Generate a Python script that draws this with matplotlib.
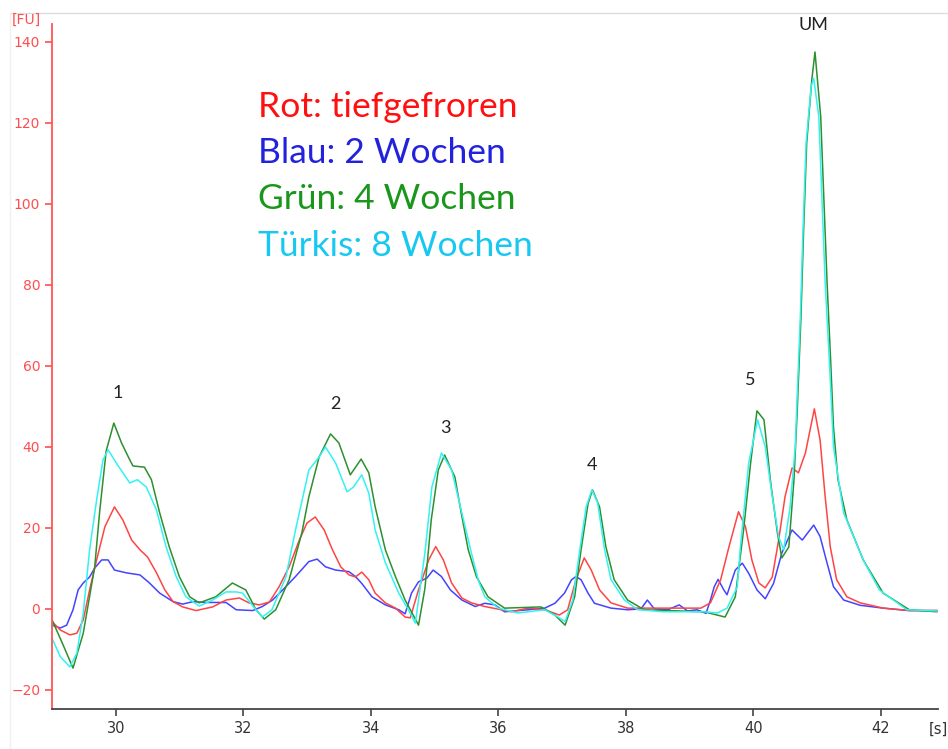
import matplotlib
matplotlib.use("Agg")
import matplotlib.pyplot as plt
from matplotlib.lines import Line2D

# migration time [s] / fluorescence [FU]
green_t = [29.0, 29.15, 29.33, 29.49, 29.67, 29.75, 29.85, 29.97, 30.09, 30.22, 30.27, 30.45, 30.56,
           30.69, 30.84, 31.0, 31.16, 31.31, 31.57, 31.83, 32.04, 32.2, 32.33, 32.51, 32.72, 32.92,
           33.03, 33.19, 33.37, 33.5, 33.68, 33.85, 33.97, 34.07, 34.23, 34.39, 34.54, 34.75, 34.85,
           34.95, 35.06, 35.16, 35.32, 35.42, 35.53, 35.66, 35.84, 36.1, 36.67, 36.89, 37.05, 37.2,
           37.3, 37.41, 37.48, 37.59, 37.69, 37.82, 38.03, 38.29, 39.23, 39.56, 39.72, 39.85, 39.96,
           40.06, 40.17, 40.27, 40.38, 40.45, 40.56, 40.64, 40.69, 40.75, 40.79, 40.84, 40.92, 40.97,
           41.06, 41.11, 41.16, 41.22, 41.26, 41.33, 41.47, 41.73, 42.04, 42.45, 42.88]
green_fu = [-2.7, -8, -14.6, -6, 10.4, 24.4, 39, 45.9, 41, 36.8, 35.3, 35, 31.9,
            23.7, 15.3, 7.9, 3, 1.5, 3, 6.4, 4.7, -0.2, -2.5, -0.2, 7.2, 18.8,
            27.7, 37.5, 43.2, 41, 33.1, 37, 33.6, 25.2, 14.6, 7.9, 2.2, -4, 5,
            22, 34.3, 38, 32.6, 23.7, 14.6, 7.9, 3, 0.2, 0.5, -1.5, -4, 3,
            14.6, 26, 29.4, 25.2, 15.3, 7.2, 2.2, -0.2, -0.7, -2, 3, 19.5, 36,
            48.9, 46.7, 31.8, 18.8, 12.6, 15.3, 31.8, 48.4, 72, 92.8, 115, 130.6, 137.5,
            121.5, 101, 80.5, 59.8, 45, 32, 22, 12, 3.9, -0.2, -0.7]

cyan_t = [29.0, 29.13, 29.28, 29.39, 29.49, 29.59, 29.7, 29.8, 29.88, 30.01, 30.22, 30.34, 30.48,
          30.64, 30.79, 30.95, 31.1, 31.31, 31.52, 31.73, 31.89, 31.99, 32.2, 32.3, 32.45, 32.67,
          32.82, 33.03, 33.19, 33.29, 33.45, 33.63, 33.73, 33.86, 33.97, 34.07, 34.23, 34.44, 34.62,
          34.7, 34.85, 34.96, 35.11, 35.27, 35.43, 35.58, 35.69, 35.79, 36.0, 36.31, 36.73, 36.94,
          37.05, 37.17, 37.28, 37.38, 37.47, 37.56, 37.67, 37.77, 37.98, 38.19, 38.6, 39.23, 39.44,
          39.59, 39.75, 39.8, 39.93, 40.07, 40.19, 40.3, 40.4, 40.48, 40.58, 40.66, 40.69, 40.74,
          40.78, 40.83, 40.91, 40.95, 41.03, 41.08, 41.13, 41.2, 41.26, 41.42, 41.73, 41.98, 42.41,
          42.88]
cyan_fu = [-7.2, -11.8, -14.3, -10.9, -1, 14.6, 26.9, 36.8, 39.3, 36, 31.1, 31.9, 30.1,
           24.4, 15.3, 7.9, 3, 0.7, 2.2, 4.2, 4.2, 3.9, -0.2, -2, -0.2, 7.9,
           19.5, 34.3, 37.5, 40, 36, 28.9, 30.1, 33.1, 28.6, 19.5, 11.4, 3.9, -1,
           -3.5, 13.8, 30.1, 38.5, 34.3, 23.7, 13.8, 7, 3, 0.2, -1, -0.2, -2,
           -3.1, 2.2, 14.6, 25.2, 29.4, 26.2, 14.6, 7.2, 2.2, -0.2, -0.7, -0.7, -1,
           0.2, 5.4, 15.3, 36, 46.7, 40, 27.7, 17.8, 14.6, 25.2, 40, 52.4, 72,
           92.8, 115, 129, 131, 121.5, 101, 80.5, 59.8, 40, 23.7, 12, 4.7, -0.2,
           -0.5]

red_t = [29.0, 29.13, 29.28, 29.39, 29.49, 29.59, 29.7, 29.83, 29.98, 30.11, 30.25, 30.38, 30.5,
         30.64, 30.77, 30.9, 31.05, 31.26, 31.52, 31.73, 31.94, 32.09, 32.25, 32.41, 32.56, 32.72,
         32.88, 33.0, 33.13, 33.27, 33.4, 33.53, 33.66, 33.76, 33.86, 33.97, 34.07, 34.23, 34.39,
         34.54, 34.62, 34.75, 34.91, 35.02, 35.14, 35.27, 35.43, 35.58, 35.79, 36.21, 36.47, 36.73,
         36.96, 37.09, 37.22, 37.35, 37.46, 37.59, 37.77, 38.03, 39.18, 39.33, 39.49, 39.62, 39.77,
         39.88, 39.98, 40.09, 40.19, 40.3, 40.4, 40.5, 40.61, 40.71, 40.82, 40.96, 41.05, 41.13,
         41.21, 41.31, 41.47, 41.68, 42.04, 42.45, 42.88]
red_fu = [-3.1, -5.2, -6.4, -6, -2.7, 4.7, 12.1, 20.3, 25.2, 22, 17, 14.6, 12.8,
          8.9, 4.7, 1.8, 0.5, -0.4, 0.5, 2.2, 2.7, 1.5, 1, 1.7, 5.4, 10.4,
          17, 21.2, 22.7, 19.5, 14.6, 10.4, 8.4, 7.9, 9.1, 7.2, 3.9, 1.5, 0.2,
          -2, -2.2, 4.7, 12.1, 15.4, 12.1, 6.4, 2.7, 1.5, 0.6, -0.7, 0.2, -0.2,
          -1.5, -0.2, 7.2, 12.6, 9.6, 4.7, 1.5, 0.2, 0.2, 1.5, 7.2, 15.3, 24,
          20.3, 12.1, 6.4, 5.2, 7.9, 17, 27.7, 34.8, 33.6, 38.5, 49.4, 41.7, 27.7,
          15.3, 7.2, 3, 1.5, 0.2, -0.4, -0.4]

blue_t = [29.0, 29.13, 29.23, 29.33, 29.41, 29.49, 29.59, 29.67, 29.78, 29.88, 29.98, 30.17, 30.38,
          30.53, 30.69, 30.9, 31.05, 31.21, 31.42, 31.73, 31.89, 32.15, 32.3, 32.46, 32.62, 32.82,
          33.03, 33.16, 33.29, 33.45, 33.66, 33.76, 33.86, 34.02, 34.23, 34.44, 34.54, 34.64, 34.75,
          34.88, 34.98, 35.11, 35.25, 35.43, 35.64, 35.79, 35.95, 36.1, 36.47, 36.73, 36.89, 37.04,
          37.15, 37.22, 37.3, 37.41, 37.51, 37.77, 38.03, 38.24, 38.34, 38.45, 38.66, 38.84, 38.97,
          39.12, 39.26, 39.33, 39.39, 39.45, 39.54, 39.59, 39.72, 39.83, 39.93, 40.06, 40.19, 40.32,
          40.45, 40.61, 40.77, 40.95, 41.05, 41.16, 41.26, 41.42, 41.68, 42.04, 42.45, 42.88]
blue_fu = [-4, -4.7, -4, -0.2, 4.7, 6.4, 7.9, 10.1, 12.1, 12.1, 9.6, 8.9, 8.4,
           6.4, 3.9, 1.8, 1.2, 1.8, 1.6, 1.6, -0.2, -0.4, 0.6, 2.2, 4.7, 8,
           11.7, 12.3, 10.4, 9.6, 9.2, 8, 6.3, 3, 1, -0.2, -1.2, 3.9, 6.7,
           7.6, 9.6, 8, 4.7, 2.2, 0.6, 1.4, 1, -0.7, -0.2, 0.2, 1.4, 3.9,
           7.2, 8, 7.2, 3.9, 1.4, 0.2, -0.2, 0, 2.2, 0, -0.2, 1, -0.5,
           -0.2, -1.1, 2.2, 5.5, 7.3, 4.7, 3.5, 9.6, 11.3, 8.8, 4.7, 2.5, 6.3,
           13.8, 19.5, 17, 20.7, 17.9, 11.3, 5.5, 2.2, 0.9, 0.2, -0.4, -0.4]

peak_names = ["1", "2", "3", "4", "5", "UM"]
peak_t = [30.03, 33.45, 35.17, 37.47, 39.95, 40.95]
peak_y = [53.3, 50.6, 44.7, 35.6, 56.5, 144.2]

legend_lines = ["Rot: tiefgefroren", "Blau: 2 Wochen", "Grün: 4 Wochen", "Türkis: 8 Wochen"]
legend_colors = ["#ff1010", "#2222dd", "#1a961a", "#18c8f0"]

fig = plt.figure(figsize=(9.48, 7.49), dpi=100)
ax = fig.add_axes([52 / 948, 40 / 749, 886 / 948, 685 / 749])

lkw = dict(lw=1.1, solid_joinstyle="round")
ax.plot(blue_t, blue_fu, color="#4444ff", **lkw)
ax.plot(red_t, red_fu, color="#ff4444", **lkw)
ax.plot(green_t, green_fu, color="#2e8f2e", **lkw)
ax.plot(cyan_t, cyan_fu, color="#33f2f2", **lkw)

ax.set_xlim(29, 42.9)
ax.set_ylim(-24.7, 144.4)
ax.set_xticks([30, 32, 34, 36, 38, 40, 42])
ax.set_yticks([-20, 0, 20, 40, 60, 80, 100, 120, 140])

for s in ["top", "right"]:
    ax.spines[s].set_visible(False)
ax.spines["left"].set_color("#ff5555")
ax.spines["left"].set_linewidth(1.3)
ax.spines["bottom"].set_color("#444444")
ax.spines["bottom"].set_linewidth(1.3)
ax.tick_params(axis="y", colors="#ff4d4d", labelsize=10, length=5, width=1.2)
ax.tick_params(axis="x", colors="#444444", labelsize=10.5, length=5, width=1.2)
ax.tick_params(axis="x", labelcolor="#333333")

for name, t, y in zip(peak_names, peak_t, peak_y):
    ax.text(t, y, name, ha="center", va="center", fontsize=13, family="Lato",
            color="#222222", clip_on=False)

for i, (txt, col) in enumerate(zip(legend_lines, legend_colors)):
    ax.text(0.2325, 0.879 - i * 0.0675, txt, transform=ax.transAxes, ha="left", va="center",
            fontsize=25.5, family="Lato", color=col)

fig.text(12 / 948, 1 - 20 / 749, "[FU]", color="#ff4d4d", fontsize=10, ha="left", va="center")
fig.text(929 / 948, 1 - 729 / 749, "[s]", color="#333333", fontsize=10.5, ha="left", va="center")

# faint screenshot frame
fig.add_artist(Line2D([10 / 948, 1], [1 - 13 / 749, 1 - 13 / 749], color="#dddddd", lw=1))
fig.add_artist(Line2D([10 / 948, 10 / 948], [0, 1 - 13 / 749], color="#f0f0f0", lw=1))

fig.savefig("out.png", dpi=100)
